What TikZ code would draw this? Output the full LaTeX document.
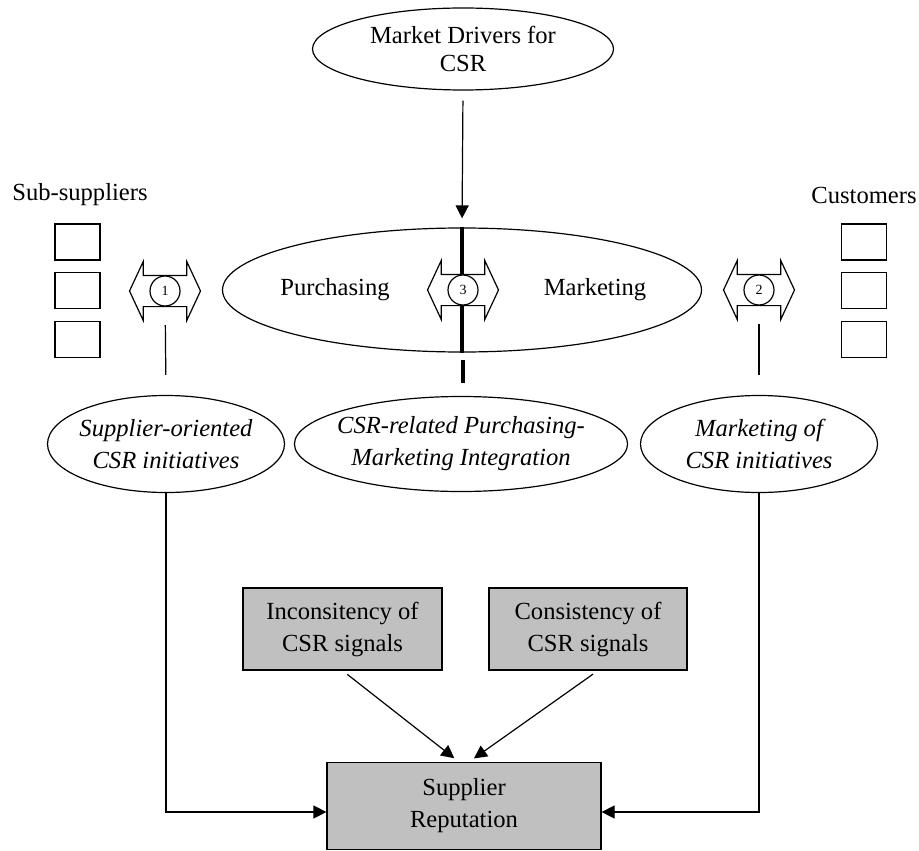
\documentclass[tikz,border=0pt]{standalone}
\usepackage{fontspec}
\setmainfont{Liberation Serif}
\usepackage{tikz}
\usetikzlibrary{arrows.meta, positioning, shapes.geometric, shapes.arrows}
\definecolor{boxgray}{RGB}{192,192,192}
\newcommand\diafont{\fontsize{12.3}{16}\selectfont}
\tikzset{%
	every oval/.style={
		ellipse,
		draw,
		line width=0.6pt,
		inner xsep=-3pt,
		inner ysep=0pt,
		align=center
	},
	grey box/.style={
		rectangle,
		draw,
		line width=0.6pt,
		fill=boxgray,
		align=center
	},
	member box/.style={
		rectangle,
		draw,
		line width=0.6pt,
		minimum width=22.5pt,
		minimum height=18pt,
		inner sep=0pt
	},
	swap arrow/.style={
		double arrow,
		draw,
		line width=0.6pt,
		double arrow tip angle=130,
		double arrow head extend=7pt,
		minimum height=35.5pt,
		minimum width=29pt,
		inner xsep=0pt,
		inner ysep=7.5pt
	},
	step no/.style={
		circle,
		draw,
		fill=white,
		line width=0.6pt,
		minimum size=15pt,
		inner sep=0pt,
		font=\scriptsize
	},
	link/.style={line width=0.6pt},
	flow/.style={line width=0.6pt, -{Triangle[length=6.5pt,width=6.5pt]}},
}

\begin{document}
\begin{tikzpicture}[x=0.5pt, y=-0.5pt, every node/.style={font=\diafont}]
	\useasboundingbox (0,0) rectangle (919,850);

	% Drivers on top
	\node[every oval, minimum width=150.5pt, minimum height=41pt, font=\fontsize{12.3}{14}\selectfont] (drivers) at (463,49) {Market Drivers for\\CSR};

	% Purchasing / Marketing
	\node[every oval, minimum width=239.5pt, minimum height=62pt] (pm) at (462,290) {};
	\node (purch) at (335,290) {Purchasing};
	\node (mark) at (595,290) {Marketing};

	% Dividing line
	\coordinate (cut) at (463,360);
	\coordinate (cutend) at (463,383);
	\draw[line width=1.6pt] (pm.north) -- (pm.south);
	\draw[line width=1.6pt] (cut) -- (cutend);
	\draw[flow, shorten <=5pt, shorten >=4.5pt] (drivers.south) -- (pm.north);

	% Sub-suppliers and customers
	\node (subs) at (80,195) {Sub-suppliers};
	\node[member box] (s1) at (77.5,242) {};
	\node[member box, below=5.75pt of s1] (s2) {};
	\node[member box, below=5.75pt of s2] (s3) {};

	\node (cust) at (864,195) {Customers};
	\node[member box] (c1) at (864,242) {};
	\node[member box, below=5.75pt of c1] (c2) {};
	\node[member box, below=5.75pt of c2] (c3) {};

	% Exchange arrows
	\node[swap arrow] (sw1) at (165,291) {};
	\node[step no] (no1) at (sw1) {1};
	\node[swap arrow] (sw3) at (463,290) {};
	\node[step no] (no3) at (sw3) {3};
	\node[swap arrow] (sw2) at (759,290) {};
	\node[step no] (no2) at (sw2) {2};

	% CSR initiatives
	\node[every oval, minimum width=118.5pt, minimum height=48.5pt, font=\diafont\itshape] (supinit) at (166,444) {Supplier-oriented\\CSR initiatives};
	\node[every oval, minimum width=165.5pt, minimum height=47.5pt, font=\diafont\itshape] (integ) at (461,444) {CSR-related Purchasing-\\Marketing Integration};
	\node[every oval, minimum width=118.5pt, minimum height=48.5pt, font=\diafont\itshape] (mktinit) at (759,444) {Marketing of\\CSR initiatives};

	\draw[link, shorten <=17pt, shorten >=10pt] (sw1.center) -- (supinit.north);
	\draw[link, shorten <=17pt, shorten >=10pt] (sw2.center) -- (mktinit.north);

	% Signals and reputation
	\node[grey box, minimum width=99.5pt, minimum height=41pt] (incons) at (342.5,629) {Inconsitency of\\CSR signals};
	\node[grey box, minimum width=99pt, minimum height=41pt] (cons) at (588,629) {Consistency of\\CSR signals};
	\node[grey box, minimum width=137pt, minimum height=43.5pt] (rep) at (464,806) {Supplier\\Reputation};

	\draw[flow, shorten <=3pt, shorten >=3pt] (incons.south) -- ([xshift=-2.5pt]rep.north);
	\draw[flow, shorten <=3pt, shorten >=3pt] ([xshift=5pt]cons.south) -- ([xshift=2.5pt]rep.north);
	\draw[flow] (supinit.south) |- ([yshift=-3pt]rep.west);
	\draw[flow] (mktinit.south) |- ([yshift=-3pt]rep.east);
\end{tikzpicture}
\end{document}
